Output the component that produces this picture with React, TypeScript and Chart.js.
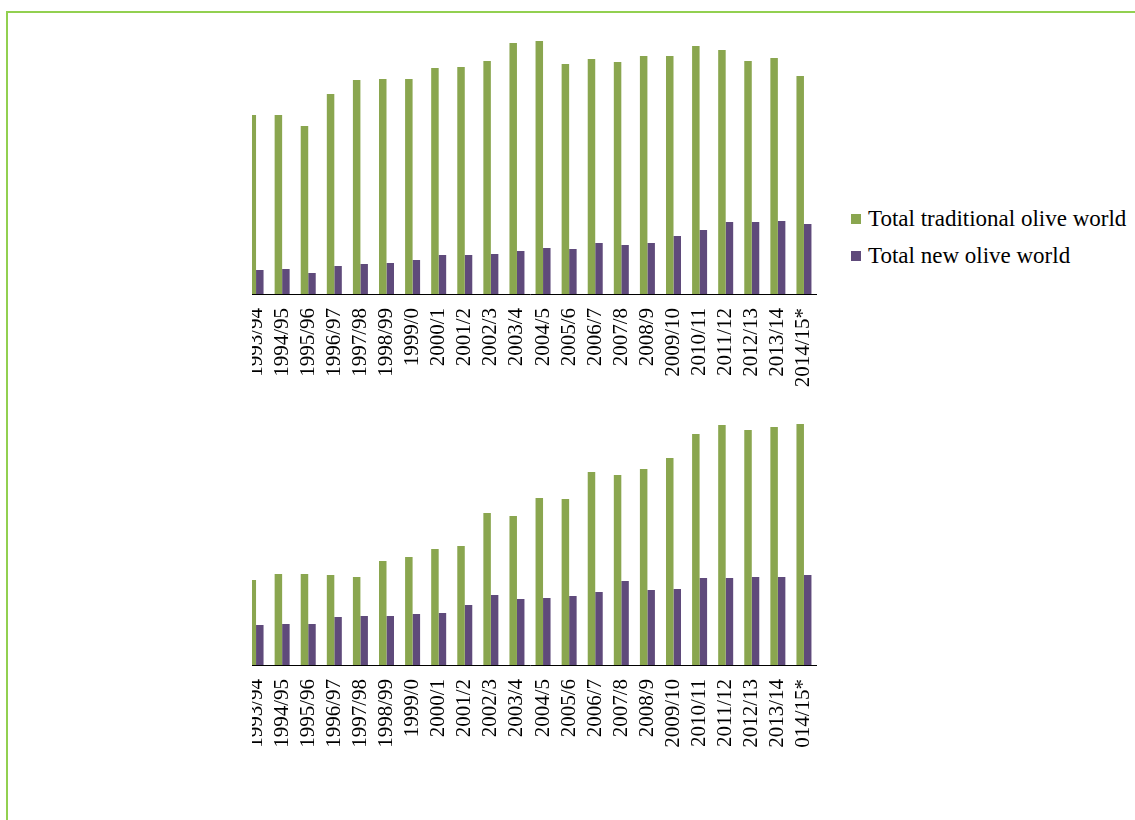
import React, { useEffect, useRef } from 'react';
import { Chart, registerables } from 'chart.js';

Chart.register(...registerables);

// Crop years shown on both charts
const seasons = [
  '1993/94', '1994/95', '1995/96', '1996/97', '1997/98', '1998/99', '1999/0',
  '2000/1', '2001/2', '2002/3', '2003/4', '2004/5', '2005/6', '2006/7',
  '2007/8', '2008/9', '2009/10', '2010/11', '2011/12', '2012/13', '2013/14', '2014/15*',
];

// Upper chart
const upperTraditional = [
  1790, 1790, 1680, 2000, 2140, 2150, 2150, 2260, 2270, 2330, 2510,
  2530, 2300, 2350, 2320, 2380, 2380, 2480, 2440, 2330, 2360, 2180,
];
const upperNew = [
  240, 250, 210, 280, 300, 310, 340, 390, 390, 400, 430,
  460, 450, 510, 490, 510, 580, 640, 720, 720, 730, 700,
];
const upperMax = 2740;

// Lower chart
const lowerTraditional = [
  850, 910, 910, 900, 880, 1040, 1080, 1160, 1190, 1520, 1490,
  1670, 1660, 1930, 1900, 1960, 2070, 2310, 2400, 2350, 2380, 2410,
];
const lowerNew = [
  400, 410, 410, 480, 490, 490, 510, 520, 600, 700, 660,
  670, 690, 730, 840, 750, 760, 870, 870, 880, 880, 900,
];
const lowerMax = 2650;

const seriesNames = ['Total traditional olive world', 'Total new olive world'];
const seriesColors = ['#8aa64f', '#5f4a7b'];

const SERIF = "'Liberation Serif', 'Times New Roman', Times, serif";
const AXIS_BAND = 130;

type BarsProps = {
  traditional: number[];
  newer: number[];
  max: number;
  width: number;
  height: number;
};

function OliveBars({ traditional, newer, max, width, height }: BarsProps) {
  const ref = useRef<HTMLCanvasElement | null>(null);

  useEffect(() => {
    if (!ref.current) return;
    const chart = new Chart(ref.current, {
      type: 'bar',
      data: {
        labels: seasons,
        datasets: [
          {
            label: seriesNames[0],
            data: traditional,
            backgroundColor: seriesColors[0],
            borderWidth: 0,
          },
          {
            label: seriesNames[1],
            data: newer,
            backgroundColor: seriesColors[1],
            borderWidth: 0,
          },
        ],
      },
      options: {
        responsive: false,
        animation: false,
        layout: { padding: 0 },
        datasets: {
          bar: { categoryPercentage: 0.575, barPercentage: 1 },
        },
        plugins: {
          legend: { display: false },
          tooltip: { enabled: false },
        },
        scales: {
          x: {
            offset: true,
            grid: { display: false, drawTicks: false },
            border: { display: true, color: '#000000', width: 1 },
            ticks: {
              autoSkip: false,
              minRotation: 90,
              maxRotation: 90,
              padding: 14,
              color: '#000000',
              font: { family: SERIF, size: 21 },
            },
            afterFit: (scale: any) => {
              scale.height = AXIS_BAND;
              scale.paddingLeft = 0;
              scale.paddingRight = 0;
            },
          },
          y: {
            display: false,
            min: 0,
            max,
          },
        },
      },
    });
    return () => chart.destroy();
  }, [traditional, newer, max]);

  return <canvas ref={ref} width={width} height={height} style={{ width, height, display: 'block' }} />;
}

export default function App() {
  return (
    <div
      style={{
        position: 'fixed',
        inset: 0,
        overflow: 'hidden',
        background: '#ffffff',
      }}
    >
      {/* frame */}
      <div
        style={{
          position: 'absolute',
          left: 6,
          top: 11,
          width: 1400,
          height: 1000,
          borderLeft: '2px solid #92d050',
          borderTop: '2px solid #92d050',
        }}
      />

      {/* upper chart */}
      <div style={{ position: 'absolute', left: 252, top: 0, width: 600, height: 410, overflow: 'hidden' }}>
        <div style={{ position: 'absolute', left: -9, top: 20 }}>
          <OliveBars
            traditional={upperTraditional}
            newer={upperNew}
            max={upperMax}
            width={574}
            height={274 + AXIS_BAND}
          />
        </div>
      </div>

      {/* legend */}
      <div style={{ position: 'absolute', left: 851, top: 200, fontFamily: SERIF, fontSize: 23, color: '#000000' }}>
        {seriesNames.map((name, i) => (
          <div key={name} style={{ display: 'flex', alignItems: 'center', height: 37, whiteSpace: 'nowrap' }}>
            <span style={{ width: 10, height: 10, background: seriesColors[i], marginRight: 7, flex: 'none' }} />
            <span>{name}</span>
          </div>
        ))}
      </div>

      {/* lower chart */}
      <div style={{ position: 'absolute', left: 252, top: 400, width: 600, height: 349, overflow: 'hidden' }}>
        <div style={{ position: 'absolute', left: -9, top: 0 }}>
          <OliveBars
            traditional={lowerTraditional}
            newer={lowerNew}
            max={lowerMax}
            width={574}
            height={265 + AXIS_BAND}
          />
        </div>
      </div>
    </div>
  );
}
